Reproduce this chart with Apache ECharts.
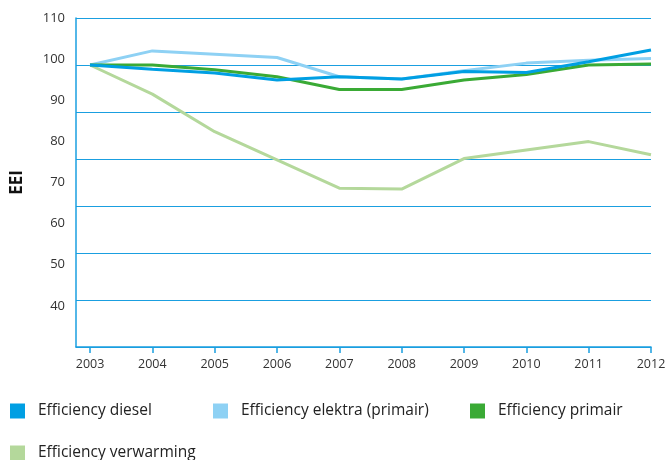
<!DOCTYPE html>
<html><head><meta charset="utf-8">
<script src="https://cdn.jsdelivr.net/npm/echarts@6/dist/echarts.min.js"></script>
<style>html,body{margin:0;padding:0;background:#fff}#c{width:669px;height:460px}</style>
</head><body><div id="c"></div>
<script>
const years = [2003,2004,2005,2006,2007,2008,2009,2010,2011,2012];
const diesel = [100,99.1,98.3,96.8,97.5,97,98.6,98.4,100.7,103.2];
const elektra = [100,103,102.3,101.6,97.5,97,98.8,100.4,101,101.4];
const primair = [100,100,99,97.5,94.8,94.8,96.8,98,100,100.2];
const verwarming = [100,93.8,85.8,79.8,73.8,73.6,80.1,81.9,83.7,80.9];
const yTickLabels = [30,40,50,60,70,80,90,100,110];
const names = ['Efficiency diesel','Efficiency elektra (primair)','Efficiency primair','Efficiency verwarming'];
const colors = ['#009fe3','#8ed1f4','#3aaa35','#b4d89b'];
const pairs = a => years.map((y,i)=>[y,a[i]]);
const chart = echarts.init(document.getElementById('c'));
const font = '"Open Sans", Lato, sans-serif';
const legendPos = [[10,403],[213,403],[470,403],[10,445]];
chart.setOption({
  animation:false,
  grid:{left:76,right:18,top:18,bottom:113},
  legend: names.map((n,i)=>({data:[n],left:legendPos[i][0],top:legendPos[i][1],padding:0,icon:'rect',itemWidth:15,itemHeight:15,itemGap:0,
    textStyle:{fontFamily:font,fontSize:15.5,color:'#222',padding:[0,0,0,8]}})),
  xAxis:{type:'value',min:2002.775,max:2012,
    axisLine:{show:true,lineStyle:{color:'#1a9fe0',width:1.5}},
    axisTick:{show:true,customValues:years,length:6,lineStyle:{color:'#1a9fe0',width:1.5}},
    axisLabel:{customValues:years,formatter:v=>String(v),fontFamily:font,fontSize:12.5,color:'#333',margin:11},
    splitLine:{show:false}},
  yAxis:[
    {type:'value',min:40,max:110,interval:10,position:'left',
     name:'EEI',nameLocation:'middle',nameGap:50,nameRotate:90,
     nameTextStyle:{fontFamily:font,fontWeight:'bold',fontSize:17,color:'#111'},
     axisLine:{show:true,lineStyle:{color:'#1a9fe0',width:1.5}},axisTick:{show:false},
     axisLabel:{show:false},
     splitLine:{show:true,lineStyle:{color:'#1a9fe0',width:1.2}}},
    {type:'value',min:yTickLabels[0],max:yTickLabels[yTickLabels.length-1],interval:10,position:'left',
     axisLine:{show:false},axisTick:{show:false},splitLine:{show:false},
     axisLabel:{fontFamily:font,fontSize:13,color:'#333',margin:11,
       formatter:v=>(v===yTickLabels[0]?'':String(v))}}
  ],
  series:[
    {name:names[3],type:'line',data:pairs(verwarming),color:colors[3],showSymbol:false,lineStyle:{width:3},yAxisIndex:0},
    {name:names[1],type:'line',data:pairs(elektra),color:colors[1],showSymbol:false,lineStyle:{width:3},yAxisIndex:0},
    {name:names[2],type:'line',data:pairs(primair),color:colors[2],showSymbol:false,lineStyle:{width:3},yAxisIndex:0},
    {name:names[0],type:'line',data:pairs(diesel),color:colors[0],showSymbol:false,lineStyle:{width:3},yAxisIndex:0}
  ]
});
</script></body></html>
